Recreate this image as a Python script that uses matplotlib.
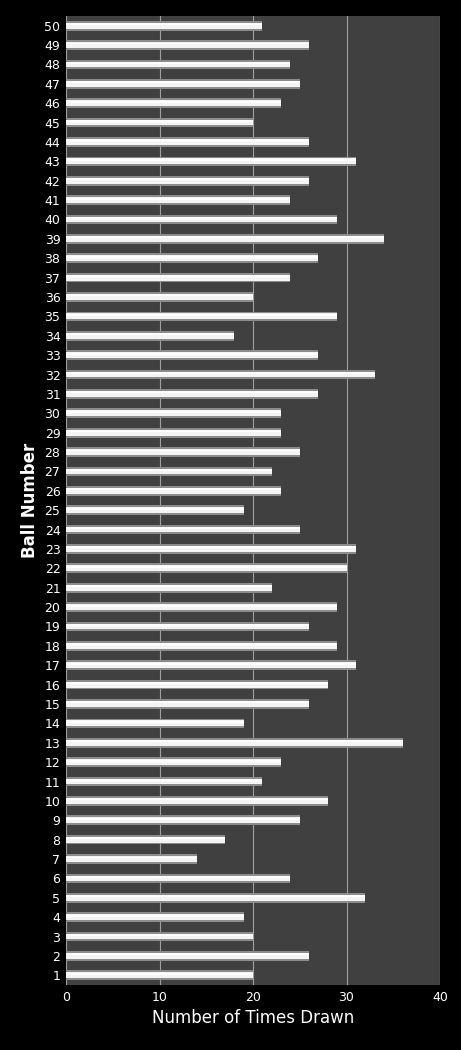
import numpy as np
import matplotlib
matplotlib.use("Agg")
import matplotlib.pyplot as plt

balls = list(range(1, 51))
times_drawn = [20, 26, 20, 19, 32, 24, 14, 17, 25, 28,
               21, 23, 36, 19, 26, 28, 31, 29, 26, 29,
               22, 30, 31, 25, 19, 23, 22, 25, 23, 23,
               27, 33, 27, 18, 29, 20, 24, 27, 34, 29,
               24, 26, 31, 26, 20, 23, 25, 24, 26, 21]

fig = plt.figure(figsize=(4.61, 10.5), dpi=100, facecolor="black")
ax = fig.add_axes([66 / 461, 1 - 985 / 1050, (440 - 66) / 461, (985 - 16) / 1050])
ax.set_facecolor("#404040")

# bars with a simple shaded look: gray outer, white core
ax.barh(balls, times_drawn, height=0.5, color="#8c8c8c", zorder=3)
ax.barh(balls, times_drawn, height=0.3, color="#f4f4f4", zorder=4)
ax.barh(np.array(balls) + 0.08, times_drawn, height=0.1, color="white", zorder=5)

ax.set_xlim(0, 40)
ax.set_ylim(0.5, 50.5)
ax.set_xticks([0, 10, 20, 30, 40])
ax.set_yticks(balls)
ax.grid(axis="x", color="#a0a0a0", linewidth=0.8, zorder=0)
ax.tick_params(colors="white", labelsize=9, length=0, pad=4)
for s in ax.spines.values():
    s.set_visible(False)
ax.set_xlabel("Number of Times Drawn", color="white", fontsize=12)
ax.set_ylabel("Ball Number", color="white", fontsize=12, fontweight="bold")

fig.savefig("out.png", facecolor="black")
